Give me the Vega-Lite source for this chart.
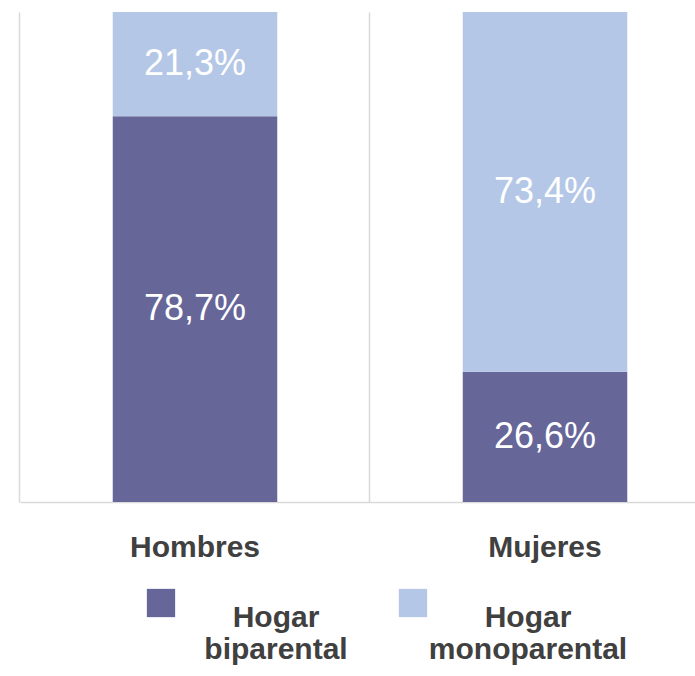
{
  "$schema": "https://vega.github.io/schema/vega-lite/v6.json",
  "width": 675,
  "height": 490,
  "autosize": {"type": "none"},
  "padding": {"left": 20, "top": 12, "right": 0, "bottom": 174},
  "data": {
    "values": [
      {"sexo": "Hombres", "hogar": "Hogar biparental", "pct": 78.7, "label": "78,7%"},
      {"sexo": "Hombres", "hogar": "Hogar monoparental", "pct": 21.3, "label": "21,3%"},
      {"sexo": "Mujeres", "hogar": "Hogar biparental", "pct": 26.6, "label": "26,6%"},
      {"sexo": "Mujeres", "hogar": "Hogar monoparental", "pct": 73.4, "label": "73,4%"}
    ]
  },
  "encoding": {
    "y": {
      "field": "pct",
      "type": "quantitative",
      "stack": "zero",
      "scale": {"domain": [0, 100]},
      "axis": null
    },
    "order": {"field": "hogar", "sort": "ascending"}
  },
  "layer": [
    {
      "mark": {"type": "bar"},
      "encoding": {
        "x": {
          "field": "sexo",
          "type": "nominal",
          "scale": {"range": [0, 700], "paddingInner": 0.53, "paddingOuter": 0.265},
          "axis": {
            "orient": "bottom",
            "title": null,
            "labels": false,
            "bandPosition": -0.567,
            "grid": true,
            "gridColor": "#d9d9d9",
            "gridWidth": 1.5,
            "domainColor": "#d9d9d9",
            "domainWidth": 1.5,
            "ticks": false
          }
        },
        "color": {
          "field": "hogar",
          "type": "nominal",
          "scale": {"range": ["#666699", "#b4c7e7"]},
          "legend": {
            "orient": "none",
            "legendX": 126,
            "legendY": 576,
            "direction": "horizontal",
            "columns": 2,
            "title": null,
            "symbolType": "square",
            "symbolSize": 800,
            "symbolStrokeWidth": 0,
            "symbolOpacity": 1,
            "labelFont": "Liberation Sans",
            "labelFontSize": 30,
            "labelFontWeight": "bold",
            "labelColor": "#404040",
            "labelAlign": "center",
            "labelBaseline": "top",
            "labelOffset": 100,
            "labelLimit": 0,
            "labelExpr": "split(datum.label, ' ')",
            "columnPadding": 50,
            "padding": 0
          }
        }
      }
    },
    {
      "mark": {"type": "text", "color": "white", "font": "Liberation Sans", "fontSize": 36},
      "encoding": {
        "x": {
          "field": "sexo",
          "type": "nominal",
          "axis": {
            "orient": "bottom",
            "title": null,
            "labelAngle": 0,
            "grid": false,
            "domain": false,
            "ticks": false,
            "labelFont": "Liberation Sans",
            "labelFontSize": 30,
            "labelFontWeight": "bold",
            "labelColor": "#404040",
            "labelPadding": 30
          }
        },
        "y": {"field": "pct", "type": "quantitative", "stack": "zero", "bandPosition": 0.5},
        "detail": {"field": "hogar"},
        "text": {"field": "label"}
      }
    }
  ],
  "resolve": {"axis": {"x": "independent"}},
  "config": {"view": {"stroke": null}}
}
